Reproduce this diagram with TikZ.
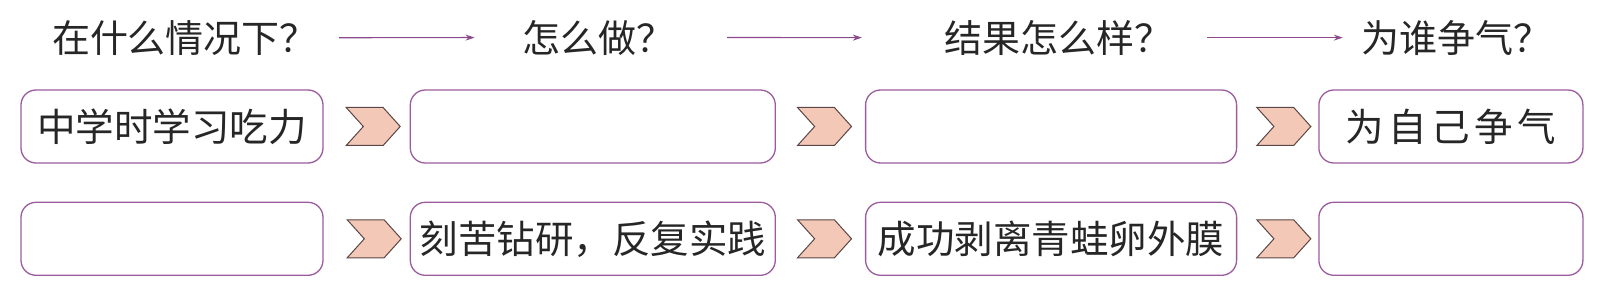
\documentclass[tikz,border=0pt]{standalone}
\usepackage{fontspec}
\setmainfont{Noto Sans CJK SC}
\newfontfamily\widecjk[LetterSpace=12]{Noto Sans CJK SC}
\usetikzlibrary{shapes.symbols, arrows.meta, positioning}
\definecolor{boxpurple}{HTML}{9B5C9E}
\definecolor{arrowpurple}{HTML}{8C4A8C}
\definecolor{chevpeach}{HTML}{F4C8B6}
\definecolor{chevedge}{HTML}{5A4646}

\begin{document}
\begin{tikzpicture}[
    x=1pt, y=-1pt,
    node distance=38pt and 86pt,
    answer/.style={rectangle, rounded corners=15pt, draw=boxpurple, line width=1.3pt, minimum height=73pt, inner sep=0pt, font=\fontsize{38.5}{42}\selectfont, text=black!85},
    question/.style={inner sep=0pt, font=\fontsize{38}{42}\selectfont, text=black!85},
    chevron/.style={signal, signal from=west, signal to=east, signal pointer angle=96, fill=chevpeach, draw=chevedge, line width=1pt, minimum width=54pt, minimum height=38pt, inner sep=0pt},
    hdarrow/.style={-{Stealth[length=9pt, width=6pt]}, draw=arrowpurple, line width=1.2pt}
]
\useasboundingbox (0,0) rectangle (1607,286);

% Nodes
\node[answer, minimum width=302pt] (cause) at (172,126.5) {中学时学习吃力};
\node[answer, minimum width=365pt, right=86pt of cause] (action) {};
\node[answer, minimum width=371pt, right=89pt of action] (result) {};
\node[answer, minimum width=264pt, right=81pt of result] (purpose) {\widecjk 为自己争气};

\node[answer, minimum width=302pt, below=38pt of cause] (cause2) {};
\node[answer, minimum width=365pt, below=38pt of action] (action2) {刻苦钻研，反复实践};
\node[answer, minimum width=371pt, below=38pt of result] (result2) {成功剥离青蛙卵外膜};
\node[answer, minimum width=264pt, below=38pt of purpose] (purpose2) {};

\node[question, above=34pt of cause, xshift=13pt] (qcause) {在什么情况下？};
\node[question, above=34pt of action, xshift=6pt] (qaction) {怎么做？};
\node[question, above=34pt of result, xshift=7pt] (qresult) {结果怎么样？};
\node[question, above=34pt of purpose, xshift=6pt] (qpurpose) {为谁争气？};

% Chevrons
\node[chevron, right=39pt of cause] (ca) {};
\node[chevron, right=38pt of action] (ar) {};
\node[chevron, right=36pt of result] (rp) {};
\node[chevron, right=40pt of cause2] (ca2) {};
\node[chevron, right=38pt of action2] (ar2) {};
\node[chevron, right=36pt of result2] (rp2) {};

% Arrows
\draw[hdarrow] ([xshift=21pt]qcause.east) -- ([xshift=-48pt]qaction.west);
\draw[hdarrow] ([xshift=52pt]qaction.east) -- ([xshift=-82pt]qresult.west);
\draw[hdarrow] ([xshift=35pt]qresult.east) -- ([xshift=-19pt]qpurpose.west);

\end{tikzpicture}
\end{document}
